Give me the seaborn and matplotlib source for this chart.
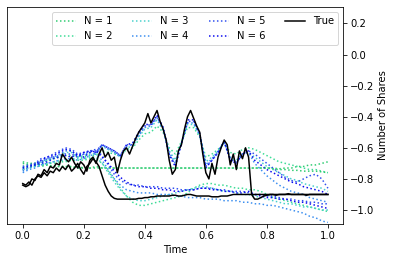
import numpy as np
import matplotlib
matplotlib.use("Agg")
import matplotlib.pyplot as plt
import seaborn as sns

# time grids
t_true = np.linspace(0, 1, 101)
t_approx = np.linspace(0, 1, 51)

# true share holdings, two sample paths
true_a = [
    -0.84, -0.85, -0.84, -0.80, -0.81, -0.77, -0.78, -0.74, -0.76, -0.72,
    -0.73, -0.70, -0.71, -0.64, -0.67, -0.69, -0.66, -0.70, -0.73, -0.69,
    -0.71, -0.75, -0.68, -0.66, -0.70, -0.64, -0.60, -0.66, -0.63, -0.68,
    -0.66, -0.76, -0.68, -0.62, -0.60, -0.64, -0.59, -0.54, -0.50, -0.47,
    -0.44, -0.38, -0.44, -0.40, -0.36, -0.43, -0.48, -0.55, -0.68, -0.77,
    -0.74, -0.62, -0.58, -0.48, -0.40, -0.36, -0.41, -0.46, -0.50, -0.64,
    -0.76, -0.80, -0.70, -0.77, -0.66, -0.60, -0.55, -0.58, -0.71, -0.64,
    -0.74, -0.62, -0.67, -0.60, -0.66, -0.90, -0.93, -0.93, -0.92, -0.91,
    -0.905, -0.90, -0.90, -0.905, -0.90, -0.90, -0.90, -0.895, -0.90, -0.90,
    -0.90, -0.90, -0.90, -0.905, -0.90, -0.90, -0.90, -0.90, -0.90, -0.90,
    -0.90,
]
true_b = [
    -0.83, -0.84, -0.82, -0.84, -0.80, -0.78, -0.79, -0.76, -0.78, -0.75,
    -0.76, -0.73, -0.75, -0.72, -0.74, -0.71, -0.75, -0.73, -0.70, -0.74,
    -0.77, -0.72, -0.70, -0.67, -0.69, -0.72, -0.78, -0.84, -0.88, -0.91,
    -0.925, -0.93, -0.93, -0.93, -0.93, -0.93, -0.93, -0.93, -0.925, -0.925,
    -0.92, -0.92, -0.915, -0.915, -0.91, -0.91, -0.91, -0.91, -0.91, -0.905,
    -0.905, -0.91, -0.91, -0.905, -0.90, -0.90, -0.905, -0.91, -0.91, -0.91,
    -0.91, -0.91, -0.915, -0.915, -0.915, -0.91, -0.91, -0.91, -0.905, -0.90,
    -0.90, -0.90, -0.90, -0.90, -0.90, -0.90, -0.90, -0.90, -0.90, -0.90,
    -0.90, -0.90, -0.90, -0.90, -0.90, -0.90, -0.90, -0.90, -0.90, -0.90,
    -0.90, -0.90, -0.90, -0.90, -0.90, -0.90, -0.90, -0.90, -0.90, -0.90,
    -0.90,
]

# approximations with N terms, path A
a_n1 = [
    -0.70, -0.71, -0.71, -0.72, -0.71, -0.72, -0.72, -0.72, -0.73, -0.72,
    -0.73, -0.73, -0.72, -0.73, -0.73, -0.73, -0.73, -0.73, -0.73, -0.73,
    -0.73, -0.73, -0.73, -0.73, -0.73, -0.73, -0.73, -0.73, -0.73, -0.73,
    -0.73, -0.73, -0.73, -0.73, -0.73, -0.73, -0.73, -0.73, -0.73, -0.73,
    -0.73, -0.73, -0.735, -0.73, -0.73, -0.72, -0.72, -0.71, -0.71, -0.70,
    -0.69,
]
a_n2 = [
    -0.72, -0.71, -0.70, -0.69, -0.68, -0.67, -0.66, -0.65, -0.65, -0.66,
    -0.66, -0.65, -0.65, -0.62, -0.63, -0.64, -0.65, -0.61, -0.60, -0.55,
    -0.51, -0.50, -0.46, -0.50, -0.60, -0.64, -0.56, -0.47, -0.47, -0.53,
    -0.66, -0.64, -0.61, -0.57, -0.63, -0.64, -0.61, -0.60, -0.61, -0.63,
    -0.65, -0.67, -0.69, -0.70, -0.71, -0.72, -0.73, -0.74, -0.74, -0.75,
    -0.76,
]
a_n3 = [
    -0.74, -0.73, -0.71, -0.70, -0.68, -0.67, -0.65, -0.63, -0.63, -0.66,
    -0.65, -0.64, -0.64, -0.59, -0.61, -0.63, -0.66, -0.60, -0.59, -0.53,
    -0.48, -0.47, -0.42, -0.49, -0.62, -0.68, -0.57, -0.45, -0.45, -0.52,
    -0.69, -0.66, -0.62, -0.57, -0.66, -0.68, -0.64, -0.63, -0.66, -0.69,
    -0.72, -0.74, -0.76, -0.78, -0.80, -0.81, -0.83, -0.84, -0.85, -0.86,
    -0.88,
]
a_n4 = [
    -0.75, -0.73, -0.72, -0.69, -0.67, -0.66, -0.64, -0.62, -0.62, -0.66,
    -0.64, -0.63, -0.64, -0.58, -0.61, -0.63, -0.66, -0.59, -0.58, -0.52,
    -0.47, -0.46, -0.41, -0.48, -0.63, -0.70, -0.57, -0.44, -0.44, -0.52,
    -0.71, -0.67, -0.62, -0.56, -0.67, -0.69, -0.64, -0.63, -0.70, -0.74,
    -0.78, -0.81, -0.84, -0.86, -0.88, -0.89, -0.90, -0.92, -0.93, -0.94,
    -0.95,
]
a_n5 = [
    -0.73, -0.72, -0.70, -0.67, -0.66, -0.64, -0.62, -0.60, -0.61, -0.64,
    -0.63, -0.62, -0.62, -0.58, -0.60, -0.62, -0.65, -0.58, -0.58, -0.51,
    -0.46, -0.45, -0.40, -0.47, -0.64, -0.71, -0.57, -0.43, -0.43, -0.51,
    -0.72, -0.68, -0.63, -0.56, -0.67, -0.70, -0.64, -0.62, -0.64, -0.67,
    -0.70, -0.73, -0.76, -0.79, -0.81, -0.82, -0.80, -0.78, -0.77, -0.80,
    -0.86,
]
a_n6 = [
    -0.74, -0.73, -0.71, -0.68, -0.66, -0.65, -0.63, -0.61, -0.62, -0.65,
    -0.63, -0.62, -0.63, -0.58, -0.60, -0.62, -0.65, -0.58, -0.57, -0.50,
    -0.45, -0.45, -0.39, -0.47, -0.65, -0.72, -0.57, -0.42, -0.42, -0.51,
    -0.73, -0.68, -0.63, -0.56, -0.68, -0.70, -0.64, -0.62, -0.68, -0.71,
    -0.74, -0.76, -0.78, -0.80, -0.82, -0.83, -0.85, -0.86, -0.87, -0.88,
    -0.90,
]

# approximations with N terms, path B
b_n1 = [
    -0.69, -0.70, -0.70, -0.71, -0.71, -0.72, -0.72, -0.72, -0.72, -0.73,
    -0.73, -0.73, -0.73, -0.73, -0.73, -0.73, -0.73, -0.73, -0.73, -0.73,
    -0.73, -0.73, -0.73, -0.73, -0.73, -0.73, -0.73, -0.73, -0.73, -0.73,
    -0.73, -0.73, -0.73, -0.73, -0.73, -0.73, -0.73, -0.73, -0.73, -0.73,
    -0.73, -0.735, -0.74, -0.74, -0.745, -0.745, -0.75, -0.75, -0.75, -0.755,
    -0.76,
]
b_n2 = [
    -0.73, -0.72, -0.72, -0.71, -0.70, -0.70, -0.69, -0.69, -0.68, -0.68,
    -0.68, -0.67, -0.67, -0.70, -0.75, -0.80, -0.86, -0.91, -0.95, -0.97,
    -0.97, -0.96, -0.95, -0.94, -0.93, -0.92, -0.91, -0.89, -0.86, -0.84,
    -0.83, -0.83, -0.84, -0.84, -0.85, -0.86, -0.86, -0.87, -0.87, -0.88,
    -0.90, -0.92, -0.93, -0.94, -0.95, -0.96, -0.97, -0.98, -0.99, -1.00,
    -1.01,
]
b_n3 = [
    -0.74, -0.73, -0.72, -0.71, -0.70, -0.69, -0.68, -0.68, -0.67, -0.67,
    -0.67, -0.66, -0.66, -0.70, -0.76, -0.82, -0.87, -0.91, -0.93, -0.94,
    -0.94, -0.93, -0.92, -0.91, -0.90, -0.89, -0.88, -0.87, -0.86, -0.85,
    -0.85, -0.86, -0.87, -0.88, -0.88, -0.89, -0.90, -0.90, -0.91, -0.92,
    -0.93, -0.94, -0.95, -0.96, -0.96, -0.97, -0.98, -0.98, -0.99, -1.00,
    -1.00,
]
b_n4 = [
    -0.76, -0.74, -0.73, -0.71, -0.70, -0.69, -0.68, -0.67, -0.67, -0.68,
    -0.67, -0.65, -0.64, -0.68, -0.74, -0.80, -0.84, -0.87, -0.88, -0.89,
    -0.89, -0.89, -0.90, -0.90, -0.90, -0.91, -0.91, -0.92, -0.92, -0.92,
    -0.93, -0.93, -0.93, -0.94, -0.94, -0.94, -0.95, -0.95, -0.96, -0.96,
    -0.97, -0.97, -0.98, -0.99, -1.00, -1.01, -1.02, -1.04, -1.05, -1.07,
    -1.08,
]
b_n5 = [
    -0.72, -0.71, -0.70, -0.69, -0.67, -0.66, -0.65, -0.64, -0.64, -0.66,
    -0.64, -0.62, -0.61, -0.65, -0.71, -0.77, -0.81, -0.83, -0.84, -0.84,
    -0.85, -0.85, -0.85, -0.86, -0.86, -0.86, -0.87, -0.87, -0.87, -0.86,
    -0.86, -0.86, -0.87, -0.87, -0.88, -0.88, -0.88, -0.89, -0.90, -0.90,
    -0.91, -0.91, -0.92, -0.93, -0.93, -0.94, -0.94, -0.95, -0.95, -0.96,
    -0.96,
]
b_n6 = [
    -0.73, -0.72, -0.71, -0.70, -0.69, -0.67, -0.66, -0.65, -0.66, -0.64,
    -0.66, -0.63, -0.62, -0.66, -0.70, -0.75, -0.79, -0.82, -0.84, -0.85,
    -0.85, -0.86, -0.86, -0.87, -0.87, -0.88, -0.88, -0.87, -0.87, -0.86,
    -0.86, -0.87, -0.87, -0.88, -0.88, -0.89, -0.89, -0.88, -0.90, -0.91,
    -0.92, -0.92, -0.93, -0.93, -0.94, -0.95, -0.95, -0.96, -0.97, -0.98,
    -0.99,
]

n_labels = ["N = 1", "N = 2", "N = 3", "N = 4", "N = 5", "N = 6"]
colors = ["#2ecc71", "#3ddc97", "#48d1cc", "#3c8ff0", "#2f4ff0", "#0a0aee"]

approx_a = [a_n1, a_n2, a_n3, a_n4, a_n5, a_n6]
approx_b = [b_n1, b_n2, b_n3, b_n4, b_n5, b_n6]

fig = plt.figure(figsize=(394 / 72, 262 / 72), dpi=72)
ax = fig.add_axes([0.019, 0.145, 0.852, 0.828])

for vals, lab, col in zip(approx_a, n_labels, colors):
    sns.lineplot(x=t_approx, y=vals, ax=ax, color=col, linestyle=":", lw=1.5, label=lab)
for vals, col in zip(approx_b, colors):
    sns.lineplot(x=t_approx, y=vals, ax=ax, color=col, linestyle=":", lw=1.5, label="_nolegend_")

sns.lineplot(x=t_true, y=true_a, ax=ax, color="black", lw=1.5, label="True")
sns.lineplot(x=t_true, y=true_b, ax=ax, color="black", lw=1.5, label="_nolegend_")

ax.set_ylim(-1.09, 0.305)
ax.set_xticks([0.0, 0.2, 0.4, 0.6, 0.8, 1.0])
ax.set_yticks([-1.0, -0.8, -0.6, -0.4, -0.2, 0.0, 0.2])
ax.yaxis.tick_right()
ax.yaxis.set_label_position("right")
ax.set_xlabel("Time")
ax.set_ylabel("Number of Shares")
ax.legend(ncol=4, loc="upper right")

fig.savefig("out.png", dpi=72)
